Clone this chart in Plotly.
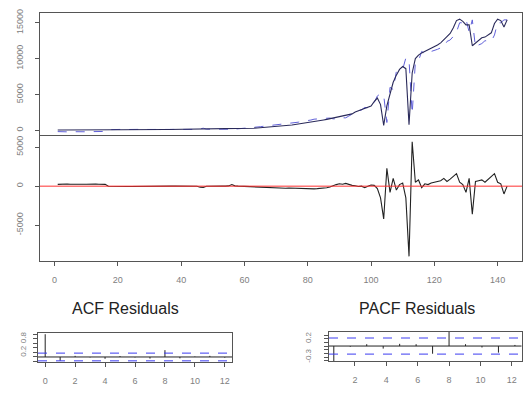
import plotly.graph_objects as go

# ---------------- data ----------------
idx = list(range(1, 144))

actual = [
    60, 55, 60, 65, 60, 65, 70, 65, 70, 75, 70, 75, 80, 75, 80, 85,
    80, 85, 80, 85, 90, 85, 90, 95, 90, 95, 100, 95, 100, 105, 100, 105, 110,
    110, 115, 115, 120, 120, 125, 125, 130, 130, 135, 135, 140,
    140, 145, 150, 155, 160, 165, 170, 175, 180, 190, 200, 210,
    220, 235, 250, 270, 290, 310, 330,
    360, 390, 420, 450, 490, 530, 570, 610, 660, 710, 760, 820, 880, 940, 1000,
    1070, 1140, 1210, 1290, 1370, 1450, 1530, 1620,
    1710, 1800, 1900, 2000, 2100, 2200, 2300,
    2550, 2700, 2850, 3000, 3150, 3400,
    4000, 4500, 3600, 700, 3400, 5200, 6700, 7700, 8500, 8900,
    8600, 800, 8000, 10000, 10500, 10800, 11000, 11200, 11400, 11600,
    11900, 12200, 12600, 13000, 13500, 14300, 15300, 15500, 15200, 14700,
    14700, 11800, 12200, 12600, 12900, 13000, 13300, 13600, 14900, 15500,
    15300, 14400, 15400,
]

fitted = [
    -170, -205, -190, -205, -180, -195, -180, -215, -180, -165, -200, -175, -180, -165, -170, -145,
    100, 125, 110, 135, 130, 115, 140, 135, 120, 115, 140, 125, 120, 135, 120, 115, 130,
    100, 115, 95, 110, 120, 135, 115, 130, 110, 125, 135, 160,
    270, 295, 170, 155, 150, 165, 180, 155, 180, 160, 0, 170,
    220, 255, 240, 300, 340, 390, 430,
    510, 570, 620, 620, 710, 720, 810, 820, 920, 940, 1010, 1100, 1140, 1240, 1280,
    1390, 1440, 1560, 1610, 1670, 1700, 1730, 1720,
    1610, 1600, 1600, 1750, 1750, 2000, 2200,
    2500, 2750, 2850, 3200, 3150, 3250,
    3900, 4800, 5100, 4900, 1100, 6000, 5700, 8200, 8300, 8500,
    10100, 9800, 2300, 9500, 9700, 11000, 10700, 11000, 11000, 11100,
    11300, 11500, 11600, 12400, 12600, 13100, 13700, 15000, 15000, 15500,
    13700, 15400, 11600, 11900, 12100, 12500, 12400, 12400, 13300, 15000,
    15000, 15400, 15400,
]

residuals = [
    230, 260, 250, 270, 240, 260, 250, 280, 250, 240, 270, 250, 260, 240, 250, 230,
    -20, -40, -30, -50, -40, -30, -50, -40, -30, -20, -40, -30, -20, -30, -20, -10, -20,
    10, 0, 20, 10, 0, -10, 10, 0, 20, 10, 0, -20,
    -130, -150, -20, 0, 10, 0, -10, 20, 0, 30, 200, 40,
    0, -20, 10, -30, -50, -80, -100,
    -150, -180, -200, -170, -220, -190, -240, -210, -260, -230, -250, -280, -260,
    -300, -280, -320, -300, -350, -320, -300, -250, -200, -100,
    100, 200, 300, 250, 350, 200, 100,
    50, -50, 0, -200, 0, 150,
    100, -300, -1500, -4200, 2300, -800, 1000, -500, 200, 400,
    -1500, -9000, 5700, 500, 800, -200, 300, 200, 400, 500,
    600, 700, 1000, 600, 900, 1200, 1600, 500, 200, -800,
    1000, -3600, 600, 700, 800, 500, 900, 1200, 1600, 500,
    300, -1000, 0,
]

acf_lags = [0, 1, 2, 3, 4, 5, 6, 7, 8, 9, 10, 11, 12]
acf_vals = [1.0, -0.17, 0.05, -0.02, -0.08, 0.04, -0.02, -0.07, 0.3, -0.06, 0.02, 0.05, -0.03]
acf_conf = 0.17

pacf_lags = [0.65, 1.7, 2.75, 3.8, 4.85, 5.9, 6.95, 8.0, 9.05, 10.1, 11.15, 12.2]
pacf_vals = [-0.42, -0.02, 0.05, -0.07, 0.06, 0.05, -0.21, 0.39, 0.05, -0.04, -0.18, 0.03]
pacf_conf = 0.22

main_xticks = [0, 20, 40, 60, 80, 100, 120, 140]
top_yticks = [0, 5000, 10000, 15000]
top_ylabels = ["0", "5000", "10000", "15000"]
res_yticks = [-5000, 0, 5000]
res_ylabels = ["-5000", "0", "5000"]
acf_xticks = [0, 2, 4, 6, 8, 10, 12]
acf_yticks = [-0.2, 0.0, 0.2, 0.4, 0.6, 0.8, 1.0]
acf_ylabels = ["", "", "0.2", "", "", "0.8", ""]
pacf_xticks = [2, 4, 6, 8, 10, 12]
pacf_yticks = [-0.4, -0.3, -0.2, -0.1, 0.0, 0.1, 0.2, 0.3]
pacf_ylabels = ["", "-0.3", "", "", "", "", "0.2", ""]

# ---------------- geometry helpers ----------------
W, H = 523, 394
def fx(p):
    return p / W
def fy(p):
    return 1 - p / H

AX = "#555555"
BLUE = "#3c3cf0"
TICKFONT = dict(family="Liberation Sans, Arial, sans-serif", size=9, color="#808080")
SMALLFONT = dict(family="Liberation Sans, Arial, sans-serif", size=8, color="#808080")

def stems(lags, vals):
    xs, ys = [], []
    for l, v in zip(lags, vals):
        xs += [l, l, None]
        ys += [0, v, None]
    return xs, ys

fig = go.Figure()

# top panel
fig.add_trace(go.Scatter(x=idx, y=fitted, mode="lines", xaxis="x", yaxis="y",
                         line=dict(color="#6060d8", width=1, dash="dash")))
fig.add_trace(go.Scatter(x=idx, y=actual, mode="lines", xaxis="x", yaxis="y",
                         line=dict(color="#2a2a5a", width=1.1)))
# residuals
fig.add_trace(go.Scatter(x=idx, y=residuals, mode="lines", xaxis="x2", yaxis="y2",
                         line=dict(color="#222222", width=1.1)))
# ACF
ax_, ay_ = stems(acf_lags, acf_vals)
fig.add_trace(go.Scatter(x=ax_, y=ay_, mode="lines", xaxis="x3", yaxis="y3",
                         line=dict(color="#222222", width=1)))
px_, py_ = stems(pacf_lags, pacf_vals)
fig.add_trace(go.Scatter(x=px_, y=py_, mode="lines", xaxis="x4", yaxis="y4",
                         line=dict(color="#222222", width=1)))

shapes = [
    dict(type="line", xref="x2 domain", yref="y2", x0=0, x1=1, y0=0, y1=0,
         line=dict(color="#ff3030", width=1)),
    dict(type="line", xref="x3 domain", yref="y3", x0=0, x1=1, y0=0, y1=0,
         line=dict(color="#222222", width=1)),
    dict(type="line", xref="x3 domain", yref="y3", x0=0, x1=1, y0=acf_conf, y1=acf_conf,
         line=dict(color=BLUE, width=1, dash="dash")),
    dict(type="line", xref="x3 domain", yref="y3", x0=0, x1=1, y0=-acf_conf, y1=-acf_conf,
         line=dict(color=BLUE, width=1, dash="dash")),
    dict(type="line", xref="x4 domain", yref="y4", x0=0, x1=1, y0=0, y1=0,
         line=dict(color="#222222", width=1)),
    dict(type="line", xref="x4 domain", yref="y4", x0=0, x1=1, y0=pacf_conf, y1=pacf_conf,
         line=dict(color=BLUE, width=1, dash="dash")),
    dict(type="line", xref="x4 domain", yref="y4", x0=0, x1=1, y0=-pacf_conf, y1=-pacf_conf,
         line=dict(color=BLUE, width=1, dash="dash")),
]

common = dict(showline=True, mirror=True, linecolor=AX, linewidth=1, showgrid=False,
              zeroline=False, tickfont=TICKFONT, ticks="outside", tickcolor=AX,
              ticklen=4, tickwidth=1)
small = dict(common, tickfont=SMALLFONT)

xr = [-4.6, 147.7]
fig.update_layout(
    width=W, height=H, margin=dict(l=0, r=0, t=0, b=0),
    paper_bgcolor="white", plot_bgcolor="white", showlegend=False,
    shapes=shapes,
    xaxis=dict(domain=[fx(40), fx(522)], range=xr, showticklabels=False, ticks="",
               side="top", showline=True, mirror=False, linecolor=AX, linewidth=1,
               showgrid=False, zeroline=False, anchor="y"),
    yaxis=dict(domain=[fy(134), fy(9)], range=[-826, 16376], tickvals=top_yticks,
               ticktext=top_ylabels, tickangle=-90, ticklabelstandoff=8, anchor="x", **common),
    xaxis2=dict(domain=[fx(40), fx(522)], range=xr, tickvals=main_xticks,
                ticklabelstandoff=6, anchor="y2", **common),
    yaxis2=dict(domain=[fy(260), fy(134)], range=[-9557, 6392], tickvals=res_yticks,
                ticktext=res_ylabels, tickangle=-90, ticklabelstandoff=8, anchor="x2", **common),
    xaxis3=dict(domain=[fx(38), fx(232)], range=[-0.48, 12.48], tickvals=acf_xticks,
                ticklabelstandoff=6, anchor="y3", **common),
    yaxis3=dict(domain=[fy(363), fy(333)], range=[-0.238, 1.064], tickvals=acf_yticks,
                ticktext=acf_ylabels, tickangle=-90, ticklabelstandoff=4, anchor="x3", **small),
    xaxis4=dict(domain=[fx(329), fx(521.5)], range=[0.344, 12.62], tickvals=pacf_xticks,
                ticklabelstandoff=6, anchor="y4", **common),
    yaxis4=dict(domain=[fy(362), fy(332)], range=[-0.42, 0.39], tickvals=pacf_yticks,
                ticktext=pacf_ylabels, tickangle=-90, ticklabelstandoff=10, anchor="x4", **small),
    annotations=[
        dict(text="ACF Residuals", x=fx(125), y=fy(308), xref="paper", yref="paper",
             showarrow=False, xanchor="center", yanchor="middle",
             font=dict(family="Liberation Sans Narrow, Liberation Sans, Arial", size=16, color="#222222")),
        dict(text="PACF Residuals", x=fx(417), y=fy(308), xref="paper", yref="paper",
             showarrow=False, xanchor="center", yanchor="middle",
             font=dict(family="Liberation Sans Narrow, Liberation Sans, Arial", size=16, color="#222222")),
    ],
)

fig.write_html("out.html")
